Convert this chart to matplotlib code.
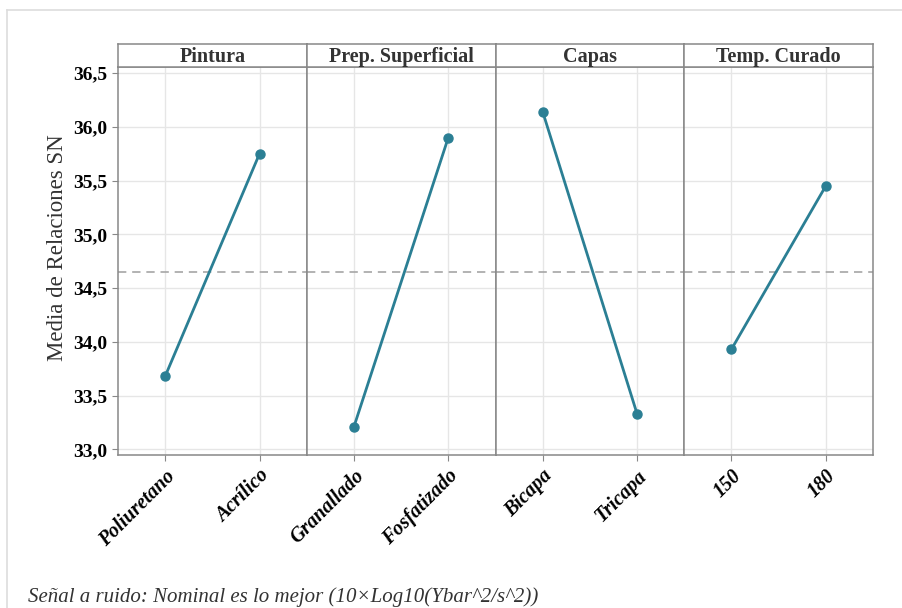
import matplotlib
matplotlib.use("Agg")
import matplotlib.pyplot as plt
from matplotlib.lines import Line2D

# Factors and their levels
factors = ["Pintura", "Prep. Superficial", "Capas", "Temp. Curado"]
levels = [
    ["Poliuretano", "Acrílico"],
    ["Granallado", "Fosfatizado"],
    ["Bicapa", "Tricapa"],
    ["150", "180"],
]
# Mean S/N ratio for each level
sn_means = [
    [33.68, 35.75],
    [33.21, 35.90],
    [36.14, 33.33],
    [33.93, 35.45],
]
overall_mean = 34.65

y_ticks = [33.0, 33.5, 34.0, 34.5, 35.0, 35.5, 36.0, 36.5]
y_ticklabels = ["33,0", "33,5", "34,0", "34,5", "35,0", "35,5", "36,0", "36,5"]

W, H = 902, 608
fig = plt.figure(figsize=(W / 100, H / 100), dpi=100)
fig.patch.set_facecolor("white")

serif = ["Liberation Serif", "DejaVu Serif"]
line_color = "#2b7f94"
frame_color = "#888888"
grid_color = "#e6e6e6"

# light outer frame
fig.add_artist(Line2D([7 / W, 1.0], [1 - 10 / H, 1 - 10 / H], color="#dddddd", lw=1.2))
fig.add_artist(Line2D([7 / W, 7 / W], [0, 1 - 10 / H], color="#dddddd", lw=1.2))

left, right = 118, 873
top_plot, bottom = 67, 455
strip_top = 44
panel_w = (right - left) / 4

for i, (fac, labs, vals) in enumerate(zip(factors, levels, sn_means)):
    x0 = left + i * panel_w
    ax = fig.add_axes([x0 / W, 1 - bottom / H, panel_w / W, (bottom - top_plot) / H])
    ax.set_xlim(0.5, 2.5)
    ax.set_ylim(32.947, 36.556)
    ax.set_axisbelow(True)
    ax.grid(True, color=grid_color, lw=1.0)
    ax.axhline(overall_mean, color="#a6a6a6", lw=1.2, ls=(0, (5, 3.5)), zorder=1)
    ax.plot([1, 2], vals, color=line_color, lw=2.0, marker="o", ms=6.5, zorder=3)
    ax.set_xticks([1, 2])
    ax.set_xticklabels(labs, rotation=45, ha="right", rotation_mode="anchor",
                       family=serif, fontweight="bold", fontstyle="italic", fontsize=14.5)
    ax.tick_params(axis="x", length=4, color=frame_color, pad=4)
    ax.set_yticks(y_ticks)
    if i == 0:
        ax.set_yticklabels(y_ticklabels, family=serif, fontweight="bold", fontsize=14)
        ax.tick_params(axis="y", length=4, color=frame_color)
        ax.set_ylabel("Media de Relaciones SN", family=serif, fontsize=16.5,
                      color="#333333")
        ax.yaxis.set_label_coords(-0.265, 0.535)
    else:
        ax.tick_params(axis="y", length=0, labelleft=False)
    for s in ax.spines.values():
        s.set_color(frame_color)
        s.set_linewidth(1.1)

    # facet strip
    sax = fig.add_axes([x0 / W, 1 - top_plot / H, panel_w / W, (top_plot - strip_top) / H])
    sax.set_xticks([])
    sax.set_yticks([])
    for s in sax.spines.values():
        s.set_color(frame_color)
        s.set_linewidth(1.1)
    sax.text(0.5, 0.42, fac, ha="center", va="center", transform=sax.transAxes,
             family=serif, fontweight="bold", fontsize=14.5, color="#333333")

fig.text(28 / W, 1 - 597 / H, "Señal a ruido: Nominal es lo mejor (10×Log10(Ybar^2/s^2))",
         ha="left", va="center", family=serif, fontstyle="italic", fontsize=15,
         color="#333333")

fig.savefig("out.png", dpi=100, facecolor="white")
